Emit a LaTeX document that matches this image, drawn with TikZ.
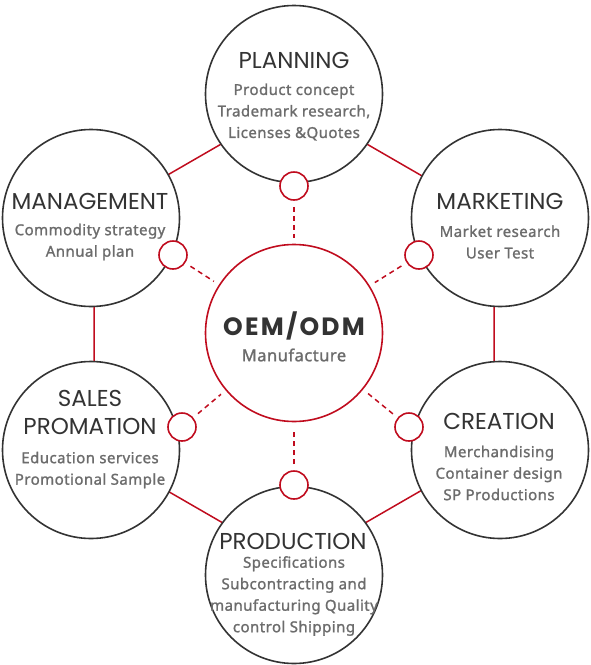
\documentclass[tikz,border=0pt]{standalone}
\usepackage{fontspec}
\setmainfont{Noto Sans}
\newfontfamily\titlefont{Poppins}
\newfontfamily\bodyfont{Noto Sans}[FakeBold=1.3,LetterSpace=3]
\usetikzlibrary{calc}
\definecolor{oemred}{RGB}{192,12,30}
\definecolor{ink}{RGB}{51,51,51}
\definecolor{bodygray}{RGB}{108,108,108}
\begin{document}
\begin{tikzpicture}[x=1pt,y=-1pt,
  outer/.style={circle,draw=ink,line width=1.6pt,fill=white,minimum size=177pt,inner sep=0pt},
  core/.style={circle,draw=oemred,line width=1.6pt,fill=white,minimum size=177pt,inner sep=0pt},
  dot/.style={circle,draw=oemred,line width=1.6pt,fill=white,minimum size=28pt,inner sep=0pt},
  hexline/.style={draw=oemred,line width=1.5pt},
  dashline/.style={draw=oemred,line width=1.5pt,dash pattern=on 5pt off 4pt,shorten <=6pt,shorten >=6pt},
  title/.style={font=\titlefont\fontsize{23}{26}\selectfont,text=ink,inner sep=0pt,anchor=center},
  bodytext/.style={font=\bodyfont\fontsize{15}{21.5}\selectfont,text=bodygray,align=center,inner sep=0pt,anchor=center},
]
\useasboundingbox (0,0) rectangle (590,665);
% hexagon vertices
\coordinate (hT) at (294,102);
\coordinate (hRT) at (494,217.5);
\coordinate (hRB) at (494,448.5);
\coordinate (hB) at (294,564);
\coordinate (hLB) at (94,448.5);
\coordinate (hLT) at (94,217.5);
\draw[hexline] (hT) -- (hRT) -- (hRB) -- (hB) -- (hLB) -- (hLT) -- cycle;

% circles
\node[outer] (plan) at (294,94) {};
\node[outer] (mark) at (500,218) {};
\node[outer] (crea) at (500,450) {};
\node[outer] (prod) at (294,575) {};
\node[outer] (sale) at (91,450) {};
\node[outer] (mana) at (91,218) {};
\node[core] (oem) at (294,333) {};

% small circles
\node[dot] (dP) at (294,186) {};
\node[dot] (dK) at (419,255) {};
\node[dot] (dC) at (409,427) {};
\node[dot] (dR) at (294,485) {};
\node[dot] (dS) at (182,427) {};
\node[dot] (dM) at (173,255) {};

% dashed connectors
\draw[dashline] (dP) -- (oem);
\draw[dashline] (dK) -- (oem);
\draw[dashline] (dC) -- (oem);
\draw[dashline] (dR) -- (oem);
\draw[dashline] (dS) -- (oem);
\draw[dashline] (dM) -- (oem);

% texts
\node[title] (tP) at (294,60) {PLANNING};
\node[bodytext] (bP) at (294,112) {Product concept\\Trademark research,\\Licenses \&Quotes};
\node[title] (tM) at (90,201) {MANAGEMENT};
\node[bodytext] (bM) at (90,242) {Commodity strategy\\Annual plan};
\node[title] (tK) at (500,201) {MARKETING};
\node[bodytext] (bK) at (500,242) {Market research\\User Test};
\node[title] (tS1) at (90,398) {SALES};
\node[title] (tS2) at (90,426) {PROMATION};
\node[bodytext] (bS) at (90,470) {Education services\\Promotional Sample};
\node[title] (tC) at (499,421) {CREATION};
\node[bodytext] (bC) at (499,473) {Merchandising\\Container design\\SP Productions};
\node[title] (tR) at (293,541) {PRODUCTION};
\node[bodytext] (bR) at (294,596) {Specifications\\Subcontracting and\\manufacturing Quality\\control Shipping};
\node[title,font=\titlefont\bfseries\addfontfeatures{LetterSpace=9}\fontsize{25}{26}\selectfont] (tO) at (294,326) {OEM/ODM};
\node[bodytext,font=\bodyfont\fontsize{16.5}{20}\selectfont] (bO) at (294,355) {Manufacture};
\end{tikzpicture}
\end{document}
